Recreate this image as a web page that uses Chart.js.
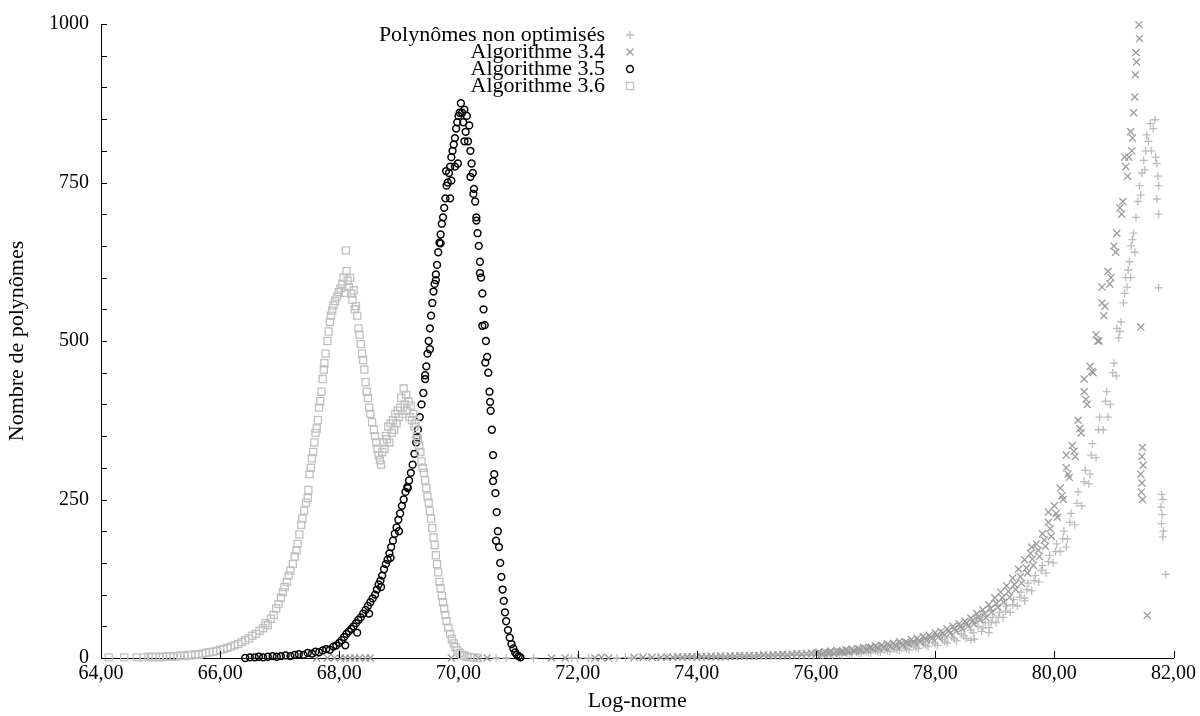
<!DOCTYPE html>
<html>
<head>
  <title>Log-norme</title>
  <script src="https://cdn.jsdelivr.net/npm/chart.js@4.4.1/dist/chart.umd.min.js"></script>
  <style>
    body { margin: 0; background: #fff; }
  </style>
</head>
<body>
  <canvas id="chart" width="1200" height="716"></canvas>

  <script>
    // Axes
    const xTicks = [64, 66, 68, 70, 72, 74, 76, 78, 80, 82];
    const yLabels = [0, 250, 500, 750, 1000];
    const seriesNames = ['Polynômes non optimisés', 'Algorithme 3.4', 'Algorithme 3.5', 'Algorithme 3.6'];

    // Polynômes non optimisés (+)
    const nonOpt = [
      [70.63,0],[70.8,0],[71.26,0],[71.9,0],[72.0,0],[72.18,0],[72.66,0],[72.8,1],[72.9,0],[73.05,1],[73.2,1],[73.35,1],[73.5,1],
      [73.64,1],[73.72,1],[73.8,1],[73.88,2],[73.96,1],[74.04,2],[74.12,1],[74.2,2],[74.28,2],[74.36,1],[74.44,2],[74.52,2],
      [74.6,3],[74.68,2],[74.76,3],[74.84,2],[74.92,3],[75.0,3],[75.08,3],[75.16,4],[75.24,3],[75.32,4],[75.4,4],[75.48,3],
      [75.56,4],[75.64,5],[75.72,4],[75.8,5],[75.88,5],[75.96,4],
      [76.04,6],[76.12,4],[76.2,6],[76.28,5],[76.36,7],[76.44,5],[76.52,8],[76.6,6],[76.68,9],[76.76,7],[76.84,10],[76.92,8],
      [77.0,11],[77.08,9],[77.16,13],[77.24,10],[77.32,14],[77.4,12],[77.48,16],[77.56,13],[77.64,19],[77.72,15],[77.8,22],
      [77.88,18],[77.96,25],[78.04,20],[78.12,29],[78.2,24],[78.28,33],[78.36,27],[78.44,38],[78.52,31],[78.6,44],[78.66,30],
      [78.72,50],[78.78,42],[78.84,56],[78.9,48],[78.96,64],[79.02,56],[79.08,72],[79.14,64],[79.2,82],[79.26,72],[79.32,92],
      [79.38,82],[79.44,104],[79.5,94],[79.56,118],[79.62,106],[79.68,130],[79.74,120],[79.8,146],[79.86,134],[79.92,162],
      [79.98,150],[80.04,180],[80.1,168],[80.16,200],[80.22,188],[80.28,228],[80.34,210],[80.4,262],[80.46,240],[80.52,296],
      [80.58,275],[80.64,338],[80.7,316],[80.76,380],[80.82,360],[80.88,420],[80.94,400],[81.0,465],[81.04,445],[81.08,505],
      [81.12,530],[81.16,560],[81.2,600],[81.22,585],[81.26,625],[81.29,650],[81.33,670],[81.37,695],[81.4,720],[81.43,745],
      [81.47,765],[81.5,785],[81.53,800],[81.55,825],[81.58,815],[81.61,843],[81.63,800],[81.66,835],[81.69,849],[81.7,790],
      [81.72,780],[81.74,760],[81.75,745],[81.72,724],[81.75,700],
      [76.08,5],[76.24,6],[76.4,6],[76.56,7],[76.72,8],[76.88,9],[77.04,10],[77.2,12],[77.36,13],[77.52,15],[77.68,17],
      [77.84,20],[78.0,23],[78.16,26],[78.32,30],[78.48,35],[78.64,40],[78.8,47],[78.94,56],[79.06,64],[79.18,74],[79.3,84],
      [79.42,96],[79.54,108],[79.66,122],[79.78,138],[79.9,152],[80.02,168],[80.14,188],[80.26,214],[80.38,244],[80.5,278],
      [80.62,320],[80.74,360],[80.86,405],[80.98,450],[81.1,515],[81.18,575],[81.24,612],[81.31,660],[81.35,640],[81.45,730],
      [81.52,770],[78.6,28],[78.9,40],[79.5,90],[80.2,175],[80.6,290],[80.9,380],[81.05,520],[81.28,600],
      [81.75,584],[81.8,258],[81.82,250],[81.79,238],[81.81,226],[81.8,212],[81.83,200],[81.82,191],[81.87,132]
    ];

    // Algorithme 3.4 (x)
    const alg34 = [
      [67.62,0],[67.8,0],[67.92,0],[68.02,0],[68.1,0],[68.18,0],[68.26,0],[68.34,0],[68.44,0],[68.52,0],[69.88,0],[70.33,0],
      [70.48,0],[71.56,0],[71.79,0],[72.29,0],[72.4,1],[72.52,0],[72.95,1],[73.1,1],[73.25,1],[73.4,1],[73.5,1],
      [73.6,1],[73.68,2],[73.76,1],[73.84,2],[73.92,2],[74.0,1],[74.08,2],[74.16,2],[74.24,3],[74.32,2],[74.4,3],[74.48,2],
      [74.56,3],[74.64,3],[74.72,4],[74.8,3],[74.88,4],[74.96,3],[75.04,4],[75.12,5],[75.2,4],[75.28,5],[75.36,5],[75.44,6],
      [75.52,5],[75.6,6],[75.68,7],[75.76,6],[75.84,7],[75.92,8],[76.0,7],
      [76.05,9],[76.1,6],[76.15,10],[76.2,8],[76.25,11],[76.3,7],[76.35,12],[76.4,9],[76.45,11],[76.5,13],[76.55,9],[76.6,14],
      [76.65,11],[76.7,15],[76.75,12],[76.8,17],[76.85,13],[76.9,16],[76.95,14],[77.0,19],[77.05,15],[77.1,20],[77.15,16],
      [77.2,22],[77.25,18],[77.3,23],[77.35,19],[77.4,26],[77.45,20],[77.5,25],[77.55,22],[77.6,29],[77.65,24],[77.7,31],
      [77.75,26],[77.8,34],[77.85,28],[77.9,36],[77.95,31],[78.0,40],[78.05,33],[78.1,42],[78.15,36],[78.2,46],[78.25,39],
      [78.3,50],[78.35,42],[78.4,54],[78.45,46],[78.5,58],[78.55,50],[78.6,63],[78.65,54],[78.7,70],[78.75,60],[78.8,76],
      [78.85,64],[78.9,84],[78.95,72],[79.0,95],[79.05,80],[79.1,104],[79.15,88],[79.2,114],[79.25,96],[79.3,126],[79.35,108],
      [79.4,140],[79.45,118],[79.5,155],[79.55,134],[79.6,165],[79.65,146],[79.7,180],[79.75,160],[79.8,196],[79.85,176],
      [79.9,214],[79.95,192],[80.0,240],[80.05,222],[80.1,268],[80.15,250],[80.2,300],[80.25,285],[80.3,335],[80.35,318],
      [80.4,375],[80.45,355],[80.5,420],[80.55,400],[80.6,460],[80.65,450],[80.7,510],[80.75,500],[80.8,560],[80.85,555],
      [80.9,610],[80.95,600],[81.0,650],[81.05,670],[81.1,710],[81.15,720],[81.2,775],[81.25,790],[81.28,830],[81.3,800],
      [81.33,860],[81.35,885],[81.36,920],[81.38,940],[81.37,955],[81.42,999],[81.43,977],
      [76.03,8],[76.13,7],[76.23,9],[76.33,10],[76.43,10],[76.53,12],[76.63,12],[76.73,14],[76.83,15],[76.93,17],[77.03,17],
      [77.13,18],[77.23,20],[77.33,21],[77.43,23],[77.53,24],[77.63,26],[77.73,28],[77.83,31],[77.93,33],[78.03,36],[78.13,39],
      [78.23,43],[78.33,46],[78.43,50],[78.53,55],[78.63,59],[78.73,65],[78.83,70],[78.93,78],[79.03,86],[79.13,95],[79.23,105],
      [79.33,116],[79.43,128],[79.53,142],[79.63,156],[79.73,170],[79.83,186],[79.93,204],[80.03,228],[80.13,256],[80.23,290],
      [80.33,326],[80.43,362],[80.53,408],[80.63,452],[80.73,500],[80.83,540],[80.93,590],[81.03,640],[81.13,700],[81.23,760],
      [81.31,820],[79.62,175],[79.9,230],[80.2,320],[80.5,440],[80.8,585],[81.18,790],
      [81.48,332],[81.47,318],[81.49,304],[81.45,290],[81.47,276],[81.46,262],[81.48,250],[81.45,522],[81.56,67]
    ];

    // Algorithme 3.5 (o)
    const alg35 = [
      [66.42,0],[66.5,1],[66.58,1],[66.65,2],[66.72,1],[66.8,2],[66.88,3],[66.95,2],[67.02,3],[67.1,4],[67.18,3],[67.25,5],
      [67.32,6],[67.4,5],[67.47,8],[67.54,7],[67.6,10],[67.66,9],[67.72,12],[67.78,14],[67.84,13],[67.9,18],[67.95,20],
      [68.0,24],[68.04,28],[68.08,33],[68.12,38],[68.16,42],[68.2,46],[68.24,50],[68.28,55],[68.32,60],[68.36,64],[68.4,70],
      [68.44,76],[68.48,82],[68.52,88],[68.56,94],[68.6,100],[68.63,108],[68.66,116],[68.69,122],[68.72,130],[68.75,140],
      [68.78,148],[68.81,155],[68.84,165],[68.87,175],[68.9,185],[68.93,196],[68.96,206],[68.99,218],[69.02,228],[69.05,240],
      [69.08,250],[69.11,262],[69.14,270],[69.17,280],[69.2,292],[69.23,305],[69.26,322],[69.29,340],[69.32,360],[69.35,380],
      [69.38,400],[69.41,418],[69.44,440],[69.46,460],[69.48,480],[69.5,500],[69.52,520],[69.54,540],[69.56,560],[69.58,578],
      [69.6,590],[69.62,605],[69.64,620],[69.66,640],[69.68,655],[69.7,668],[69.72,685],[69.74,695],[69.76,710],[69.78,725],
      [69.8,745],[69.82,750],[69.84,765],[69.86,775],[69.88,790],[69.9,800],[69.92,810],[69.94,820],[69.96,835],[69.98,845],
      [70.0,855],[70.02,860],[70.04,875],[70.06,860],[70.08,845],[70.1,865],[70.12,830],[70.14,855],[70.16,815],[70.18,840],
      [70.2,800],[70.22,780],[70.24,765],[70.26,740],[70.28,720],[70.3,695],[70.32,670],[70.34,650],[70.36,625],[70.38,600],
      [70.4,575],[70.42,550],[70.44,525],[70.46,500],[70.48,475],[70.5,450],[70.52,420],[70.54,390],[70.56,360],[70.58,320],
      [70.6,290],[70.62,260],[70.64,230],[70.66,200],[70.68,175],[70.7,150],[70.72,128],[70.74,108],[70.76,90],[70.78,72],
      [70.8,58],[70.83,44],[70.86,32],[70.89,22],[70.92,15],[70.95,9],[70.98,5],[71.01,3],[71.04,1],
      [68.1,20],[68.3,40],[68.5,70],[68.7,112],[68.86,158],[69.0,200],[69.15,268],[69.3,348],[69.44,446],[69.52,487],
      [69.62,596],[69.7,654],[69.79,768],[69.86,725],[69.88,753],[69.94,775],[69.99,780],[70.1,815],[70.2,759],[70.25,732],
      [70.3,690],[70.36,607],[70.4,524],[70.45,466],[70.53,404],[70.58,279],[70.63,185]
    ];

    // Algorithme 3.6 (carrés)
    const alg36 = [
      [64.13,1],[64.39,1],[64.6,1],[64.72,1],[64.8,2],[64.86,1],[64.92,2],[64.98,1],[65.04,2],[65.1,2],[65.16,3],[65.22,2],
      [65.28,3],[65.33,4],[65.4,3],[65.46,5],[65.52,4],[65.58,6],[65.64,5],[65.7,7],[65.76,8],[65.82,9],[65.88,10],[65.94,11],
      [66.0,13],[66.06,14],[66.12,16],[66.18,18],[66.24,20],[66.3,22],[66.36,25],[66.42,28],[66.48,31],[66.54,35],[66.6,38],
      [66.66,43],[66.72,47],[66.76,55],[66.8,52],[66.85,62],[66.9,68],[66.94,78],[66.98,85],[67.02,95],[67.05,104],[67.08,112],
      [67.12,120],[67.15,130],[67.18,138],[67.22,148],[67.25,160],[67.28,170],[67.3,180],[67.33,195],[67.36,210],[67.38,220],
      [67.41,232],[67.44,245],[67.47,252],[67.48,265],[67.5,290],[67.52,300],[67.54,315],[67.56,325],[67.58,340],[67.6,355],
      [67.62,362],[67.64,375],[67.66,395],[67.68,405],[67.7,420],[67.72,440],[67.74,455],[67.75,465],[67.77,480],[67.8,500],
      [67.82,515],[67.84,530],[67.86,540],[67.88,548],[67.9,556],[67.93,563],[67.96,570],[67.99,577],[68.02,583],[68.05,590],
      [68.07,600],[68.09,576],[68.11,643],[68.12,610],[68.14,595],[68.16,585],[68.18,600],[68.2,575],[68.22,565],[68.24,580],
      [68.26,550],[68.28,555],[68.3,540],[68.32,520],[68.34,510],[68.36,495],[68.38,480],[68.4,470],[68.42,455],[68.44,435],
      [68.46,420],[68.48,410],[68.5,395],[68.52,385],[68.55,372],[68.58,360],[68.6,350],[68.62,340],[68.64,330],[68.66,320],
      [68.68,312],[68.7,305],[68.72,325],[68.74,340],[68.76,330],[68.78,350],[68.8,345],[68.82,365],[68.84,340],[68.86,370],
      [68.88,355],[68.9,375],[68.92,360],[68.94,385],[68.96,370],[68.98,390],[69.0,380],[69.02,395],[69.04,410],[69.06,385],
      [69.08,425],[69.1,400],[69.12,415],[69.14,390],[69.16,405],[69.18,380],[69.2,398],[69.22,375],[69.24,385],[69.26,365],
      [69.28,370],[69.3,350],[69.32,345],[69.34,335],[69.36,325],[69.38,310],[69.4,300],[69.42,292],[69.44,280],[69.46,268],
      [69.48,255],[69.5,245],[69.52,232],[69.54,220],[69.56,205],[69.58,190],[69.6,178],[69.62,162],[69.64,148],[69.66,135],
      [69.68,120],[69.7,110],[69.72,98],[69.74,88],[69.76,78],[69.78,68],[69.8,58],[69.83,48],[69.86,38],[69.89,30],[69.92,23],
      [69.95,17],[69.98,12],[70.02,8],[70.06,5],[70.1,4],[70.15,2],[70.2,1],[70.26,1],[70.32,0]
    ];

    const toPoints = arr => arr.map(p => ({ x: p[0], y: p[1] }));

    // petites graduations vers l'intérieur, comme gnuplot
    const innerTicks = {
      id: 'innerTicks',
      afterDatasetsDraw(chart) {
        const { ctx, chartArea: a, scales: { x, y } } = chart;
        ctx.save();
        ctx.strokeStyle = '#000';
        ctx.lineWidth = 1;
        ctx.beginPath();
        for (let v = 0; v <= 1000; v += 50) {
          const py = Math.round(y.getPixelForValue(v)) + 0.5;
          ctx.moveTo(a.left, py);
          ctx.lineTo(a.left + 6, py);
        }
        xTicks.forEach(v => {
          const px = Math.round(x.getPixelForValue(v)) + 0.5;
          ctx.moveTo(px, a.bottom);
          ctx.lineTo(px, a.bottom - 7);
        });
        ctx.stroke();
        ctx.restore();
      }
    };

    // légende dans le graphique, texte aligné à droite puis symbole
    const insideLegend = {
      id: 'insideLegend',
      afterDraw(chart) {
        const ctx = chart.ctx;
        ctx.save();
        chart.data.datasets.forEach((ds, i) => {
          const y = 35 + i * 17;
          ctx.font = '22px "Liberation Serif"';
          ctx.textAlign = 'right';
          ctx.textBaseline = 'middle';
          ctx.fillStyle = '#000';
          ctx.fillText(ds.label, 605, y);
          ctx.strokeStyle = ds.borderColor;
          ctx.lineWidth = ds.borderWidth;
          ctx.fillStyle = 'rgba(0,0,0,0)';
          Chart.helpers.drawPoint(ctx, { pointStyle: ds.pointStyle, radius: ds.pointRadius, borderWidth: ds.borderWidth, rotation: 0 }, 630, y);
        });
        ctx.restore();
      }
    };

    const serif = { family: '"Liberation Serif", serif', size: 20 };
    const titleFont = { family: '"Liberation Serif", serif', size: 22 };

    new Chart(document.getElementById('chart'), {
      type: 'scatter',
      data: {
        datasets: [
          { label: seriesNames[0], data: toPoints(nonOpt), pointStyle: 'cross', pointRadius: 4, borderWidth: 1.3,
            borderColor: '#bcbcbc', backgroundColor: 'rgba(0,0,0,0)', clip: false, order: 4 },
          { label: seriesNames[1], data: toPoints(alg34), pointStyle: 'crossRot', pointRadius: 5, borderWidth: 1.3,
            borderColor: '#9c9c9c', backgroundColor: 'rgba(0,0,0,0)', clip: false, order: 3 },
          { label: seriesNames[2], data: toPoints(alg35), pointStyle: 'circle', pointRadius: 3.4, borderWidth: 1.5,
            borderColor: '#000000', backgroundColor: 'rgba(0,0,0,0)', clip: false, order: 2 },
          { label: seriesNames[3], data: toPoints(alg36), pointStyle: 'rect', pointRadius: 5, borderWidth: 1.3,
            borderColor: '#c0c0c0', backgroundColor: 'rgba(0,0,0,0)', clip: false, order: 1 }
        ]
      },
      options: {
        responsive: false,
        animation: false,
        devicePixelRatio: 1,
        layout: { padding: { top: 19, right: 26, left: 0, bottom: 0 } },
        plugins: { legend: { display: false }, tooltip: { enabled: false } },
        scales: {
          x: {
            type: 'linear', min: 64, max: 82,
            afterFit: s => { s.height = 58; },
            afterBuildTicks: s => { s.ticks = xTicks.map(v => ({ value: v })); },
            ticks: { color: '#000', font: serif, padding: 4, maxRotation: 0, autoSkip: false,
              callback: v => v.toFixed(2).replace('.', ',') },
            grid: { display: false, drawTicks: false },
            border: { display: true, color: '#000', width: 1 },
            title: { display: true, text: 'Log-norme', color: '#000', font: titleFont, padding: { top: 0, bottom: 2 } }
          },
          y: {
            type: 'linear', min: 0, max: 1000,
            afterFit: s => { s.width = 101; },
            afterBuildTicks: s => { s.ticks = yLabels.map(v => ({ value: v })); },
            ticks: { color: '#000', font: serif, padding: 12, autoSkip: false, callback: v => String(v) },
            grid: { display: false, drawTicks: false },
            border: { display: true, color: '#000', width: 1 },
            title: { display: true, text: 'Nombre de polynômes', color: '#000', font: titleFont, padding: { top: 4, bottom: 0 } }
          }
        }
      },
      plugins: [innerTicks, insideLegend]
    });
  </script>
</body>
</html>
